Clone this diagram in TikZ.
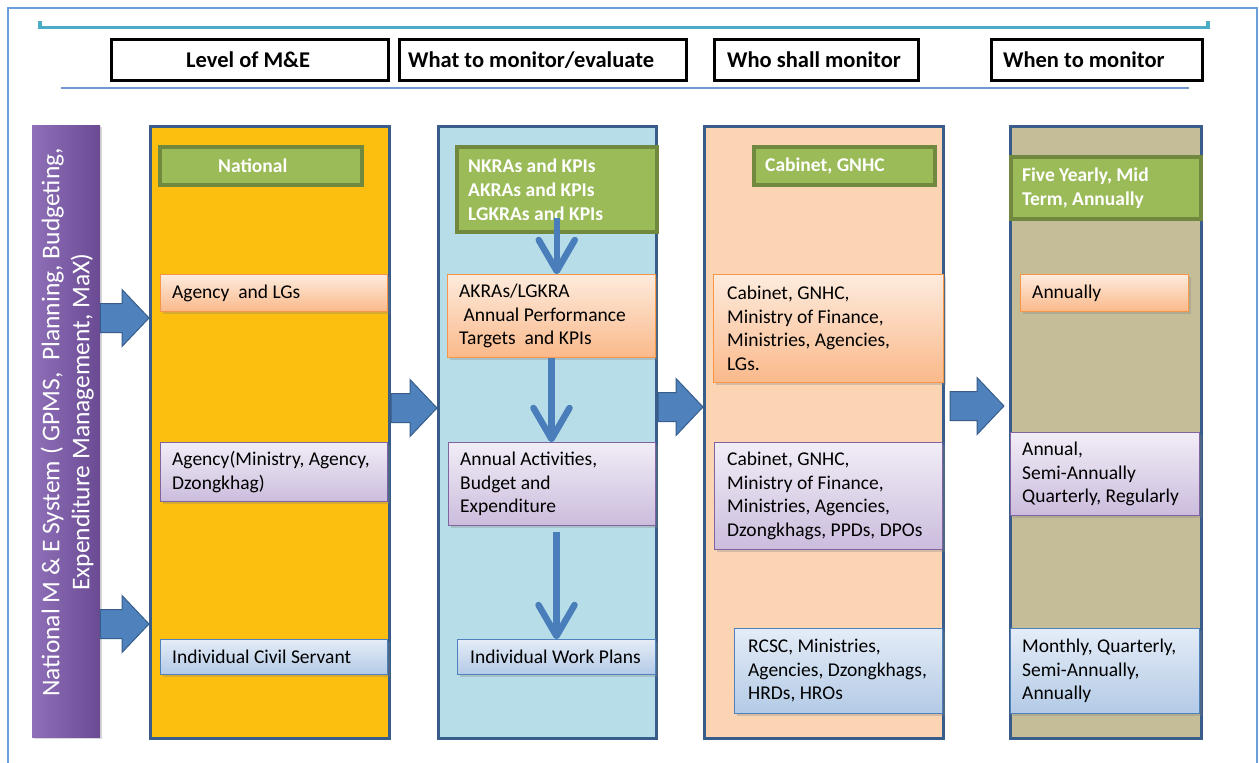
\documentclass[tikz,border=0pt]{standalone}
\usepackage{fontspec}
\setmainfont{Carlito}
\usetikzlibrary{arrows.meta,shadows,calc}
\definecolor{frameblue}{HTML}{6A9FD8}
\definecolor{topcyan}{HTML}{4BACC6}
\definecolor{subline}{HTML}{7199D0}
\definecolor{colborder}{HTML}{385D8A}
\definecolor{yellowc}{HTML}{FDBF0F}
\definecolor{lblue}{HTML}{B7DEE8}
\definecolor{peach}{HTML}{FBD4B4}
\definecolor{tan}{HTML}{C4BD97}
\definecolor{grnfill}{HTML}{9BBB59}
\definecolor{grnborder}{HTML}{71893F}
\definecolor{orgtop}{HTML}{FDEBDD}
\definecolor{orgbot}{HTML}{FAB98A}
\definecolor{orgborder}{HTML}{F79646}
\definecolor{purtop}{HTML}{F1EDF6}
\definecolor{purbot}{HTML}{CBBCDD}
\definecolor{purborder}{HTML}{8064A2}
\definecolor{blutop}{HTML}{E4ECF7}
\definecolor{blubot}{HTML}{B3CAE6}
\definecolor{bluborder}{HTML}{4F81BD}
\definecolor{arrfill}{HTML}{4F81BD}
\definecolor{arrborder}{HTML}{385D8A}
\definecolor{varrcol}{HTML}{4A7EBB}
\definecolor{barleft}{HTML}{8E6FB8}
\definecolor{barright}{HTML}{6A4B93}
\tikzset{
  hdr/.style={draw=black, line width=3pt, fill=white},
  colbox/.style={draw=colborder, line width=3pt},
  grn/.style={draw=grnborder, line width=3.5pt, fill=grnfill},
  softshadow/.style={drop shadow={opacity=0.3, shadow xshift=2pt, shadow yshift=-2pt}},
  obox/.style={draw=orgborder, line width=1pt, top color=orgtop, bottom color=orgbot, softshadow},
  pbox/.style={draw=purborder, line width=1pt, top color=purtop, bottom color=purbot, softshadow},
  bbox/.style={draw=bluborder, line width=1pt, top color=blutop, bottom color=blubot, softshadow},
  txt/.style={font=\fontsize{19.5}{23.5}\selectfont, inner sep=0pt, text=black},
  wtxt/.style={font=\bfseries\fontsize{19.5}{24}\selectfont, inner sep=0pt, text=white},
  htxt/.style={font=\bfseries\fontsize{22.5}{26}\selectfont, inner sep=0pt, text=black},
  barrow/.style={fill=arrfill, draw=arrborder, line width=1pt},
  vline/.style={draw=varrcol, line width=6.5pt, line join=round}
}
% [pad]{boxstyle}{textstyle}{name}{x1}{y1}{x2}{y2}{text}
\newcommand\bx[9][12]{%
  \node[#2, anchor=north west, inner sep=0pt, minimum width=#7pt-#5pt, minimum height=#8pt-#6pt] (#4) at (#5,#6) {};
  \node[#3, anchor=west, align=left] (#4t) at ([xshift=#1pt]#4.west) {#9};}
\newcommand\blockarrow[2]{%
  \draw[barrow] let \p1=(#1), \p2=(#2) in
    (\x1,\y1+14.5pt) -- (\x2-27pt,\y1+14.5pt) -- (\x2-27pt,\y1+28.5pt) -- (\x2,\y1)
    -- (\x2-27pt,\y1-28.5pt) -- (\x2-27pt,\y1-14.5pt) -- (\x1,\y1-14.5pt) -- cycle;}
% open V head at a tip coordinate
\newcommand\vhead[1]{\draw[vline, line cap=round] ($(#1)+(-18,-31)$) -- (#1) -- ($(#1)+(18,-31)$);}
\begin{document}
\begin{tikzpicture}[x=1pt,y=-1pt]
\useasboundingbox (0,0) rectangle (1259,763);
\fill[white] (0,0) rectangle (1259,763);
% frame and rules
\draw[frameblue, line width=1.5pt] (8,763) -- (8,8) -- (1257,8) -- (1257,763);
\draw[topcyan, line width=3.5pt] (40,21) -- (40,27.5) -- (1208,27.5) -- (1208,21);
\draw[subline, line width=2pt] (61,88) -- (1189,88);
% header boxes
\bx[76]{hdr}{htxt}{h1}{110}{38}{387}{79}{Level of M\&E}
\bx[10]{hdr}{htxt}{h2}{398}{38}{685}{79}{What to monitor/evaluate}
\bx[14]{hdr}{htxt}{h3}{713}{38}{917}{79}{Who shall monitor}
\bx[13]{hdr}{htxt}{h4}{990}{38}{1201}{79}{When to monitor}
% purple bar
\node[anchor=north west, minimum width=68pt, minimum height=612pt, inner sep=0pt,
      left color=barleft, right color=barright, softshadow] (pb) at (32,125) {};
\node[rotate=90, align=center, text=white, font=\fontsize{25.5}{30}\selectfont, inner sep=0pt]
  (pbt) at ($(pb.center)+(1,-9)$) {National M \& E System ( GPMS,\ \ Planning, Budgeting,\\Expenditure Management, MaX)};
% columns
\node[colbox, fill=yellowc, anchor=north west, minimum width=239pt, minimum height=612pt, inner sep=0pt] (c1) at (149,125) {};
\node[colbox, fill=lblue, anchor=north west, minimum width=218pt, minimum height=612pt, inner sep=0pt] (c2) at (437,125) {};
\node[colbox, fill=peach, anchor=north west, minimum width=239pt, minimum height=612pt, inner sep=0pt] (c3) at (703,125) {};
\node[colbox, fill=tan, anchor=north west, minimum width=191pt, minimum height=612pt, inner sep=0pt] (c4) at (1009,125) {};
% green headers
\bx[60]{grn}{wtxt}{g1}{158}{145}{360}{183}{National}
\bx[13]{grn}{wtxt}{g2}{455}{145}{655}{230}{NKRAs and KPIs\\AKRAs and KPIs\\LGKRAs and KPIs}
\bx[13]{grn}{wtxt}{g3}{752}{145}{933}{183}{Cabinet, GNHC}
\bx[13]{grn}{wtxt}{g4}{1009}{155}{1199}{217}{Five Yearly, Mid\\Term, Annually}
% row 1 (orange)
\bx[12]{obox}{txt}{o1}{160}{274}{387}{311}{Agency\ \ and LGs}
\bx[12]{obox}{txt}{o2}{447}{274}{655}{357}{AKRAs/LGKRA\\\ Annual Performance\\Targets\ \ and KPIs}
\bx[14]{obox}{txt}{o3}{713}{274}{943}{382}{Cabinet, GNHC,\\Ministry of Finance,\\Ministries, Agencies,\\LGs.}
\bx[12]{obox}{txt}{o4}{1020}{274}{1188}{311}{Annually}
% row 2 (purple)
\bx[12]{pbox}{txt}{p1}{160}{442}{387}{501}{Agency(Ministry, Agency,\\Dzongkhag)}
\bx[12]{pbox}{txt}{p2}{448}{442}{655}{525}{Annual Activities,\\Budget and\\Expenditure}
\bx[13]{pbox}{txt}{p3}{714}{442}{942}{549}{Cabinet, GNHC,\\Ministry of Finance,\\Ministries, Agencies,\\Dzongkhags, PPDs, DPOs}
\bx[12]{pbox}{txt}{p4}{1010}{432}{1199}{515}{Annual,\\Semi-Annually\\Quarterly, Regularly}
% row 3 (blue)
\bx[12]{bbox}{txt}{b1}{160}{639}{387}{674}{Individual Civil Servant}
\bx[13]{bbox}{txt}{b2}{457}{639}{655}{674}{Individual Work Plans}
\bx[14]{bbox}{txt}{b3}{734}{628}{942}{713}{RCSC, Ministries,\\Agencies, Dzongkhags,\\HRDs, HROs}
\bx[12]{bbox}{txt}{b4}{1010}{628}{1199}{713}{Monthly, Quarterly,\\Semi-Annually,\\Annually}
% vertical arrows in column 2
\coordinate (t1) at ($(g2.south |- o2.north)+(0,-3)$);
\coordinate (t2) at ($(o2.south |- p2.north)+(0,-3)$);
\coordinate (t3) at ($(b2.north)+(0,-3)$);
\draw[vline] ($(g2.south)+(0,-16)$) -- (t1);
\vhead{t1}
\draw[vline] (o2.south) -- (t2);
\vhead{t2}
\draw[vline] ($(b2.north |- p2.south)+(0,6)$) -- (t3);
\vhead{t3}
% block arrows
\coordinate (a1s) at (pb.east |- 0,318);
\coordinate (a1e) at (c1.west |- 0,318);
\coordinate (a2s) at (pb.east |- 0,624);
\coordinate (a2e) at (c1.west |- 0,624);
\coordinate (a3s) at (c1.east |- 0,408);
\coordinate (a3e) at (c2.west |- 0,408);
\coordinate (a4s) at (c2.east |- 0,407);
\coordinate (a4e) at (c3.west |- 0,407);
\coordinate (a5s) at ($(c3.east |- 0,406)+(5,0)$);
\coordinate (a5e) at ($(c4.west |- 0,406)+(-5,0)$);
\blockarrow{a1s}{a1e}
\blockarrow{a2s}{a2e}
\blockarrow{a3s}{a3e}
\blockarrow{a4s}{a4e}
\blockarrow{a5s}{a5e}
\end{tikzpicture}
\end{document}
